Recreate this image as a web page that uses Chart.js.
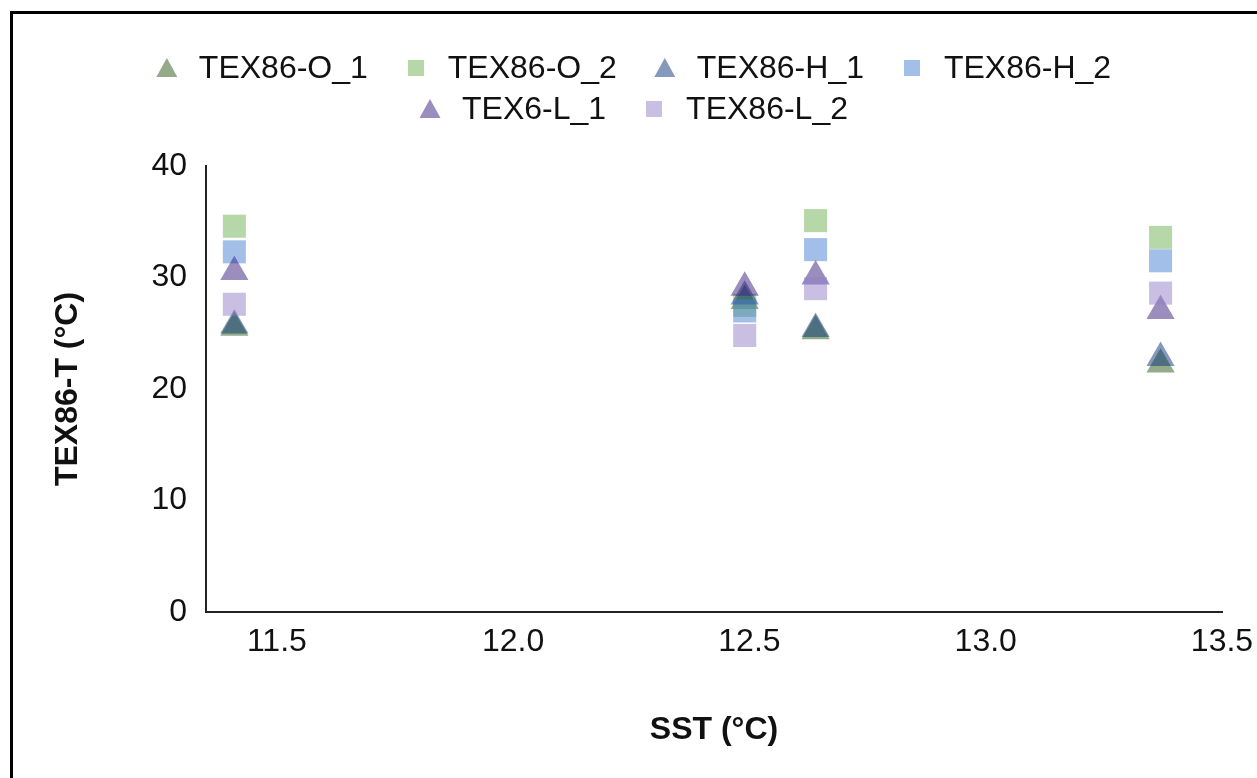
<!DOCTYPE html>
<html>
<head>
<meta charset="utf-8">
<script src="https://cdn.jsdelivr.net/npm/chart.js@4/dist/chart.umd.min.js"></script>
<style>
  html, body { margin: 0; padding: 0; background: #fff; }
  body { width: 1257px; height: 778px; position: relative; overflow: hidden;
         font-family: 'Liberation Sans', Arial, sans-serif; }
  #frame  { position: absolute; left: 10px; top: 11px; width: 1300px; height: 820px;
            border: 3px solid #000; box-sizing: border-box; }
  #wrap   { position: absolute; left: 0; top: 0; width: 1257px; height: 778px; }
  #legend { position: absolute; left: 0; top: 47px; width: 1262px; }
  .row  { display: flex; justify-content: center; align-items: center; height: 41px; }
  .item { display: flex; align-items: center; margin-right: 32px; font-size: 32px;
          color: #111; white-space: nowrap; }
  .item:last-child { margin-right: 0; }
  .mk  { width: 32px; height: 32px; display: flex; align-items: center; justify-content: center;
         margin-right: 16px; }
  .tri { width: 21px; height: 19px; clip-path: polygon(50% 0, 100% 100%, 0 100%); }
  .sq  { width: 16px; height: 16px; }
</style>
</head>
<body>
<div id="frame"></div>
<div id="wrap"><canvas id="chart" width="1257" height="778"></canvas></div>
<div id="legend"></div>
<script>
// ── data ──────────────────────────────────────────────────────────────────────
const sst      = [11.41, 12.49, 12.64, 13.37]
const names    = ['TEX86-O_1', 'TEX86-O_2', 'TEX86-H_1', 'TEX86-H_2', 'TEX6-L_1', 'TEX86-L_2']
const tex86O1  = [25.5, 27.9, 25.2, 22.2]
const tex86O2  = [34.6, 27.5, 35.1, 33.6]
const tex86H1  = [25.7, 28.3, 25.4, 22.8]
const tex86H2  = [32.3, 27.0, 32.5, 31.5]
const tex86L1  = [30.5, 29.1, 30.1, 27.0]
const tex86L2  = [27.6, 24.8, 29.0, 28.6]
const xTicks   = [11.5, 12.0, 12.5, 13.0, 13.5]
const yTicks   = [0, 10, 20, 30, 40]

const series   = [tex86O1, tex86O2, tex86H1, tex86H2, tex86L1, tex86L2]
const shapes   = ['triangle', 'rect', 'triangle', 'rect', 'triangle', 'rect']
const colors   = [
  'rgba(41,87,21,0.5)',   'rgba(109,175,81,0.5)',
  'rgba(9,51,119,0.5)',   'rgba(69,127,213,0.5)',
  'rgba(57,27,127,0.5)',  'rgba(145,127,197,0.5)',
]

const FONT = "'Liberation Sans', Arial, sans-serif"
const INK  = '#111'

// ── legend (html, two rows like the original) ─────────────────────────────────
const legendRows = [[0, 1, 2, 3], [4, 5]]
document.getElementById('legend').innerHTML = legendRows.map(r => `
  <div class="row">${r.map(i => `
    <div class="item"><span class="mk"><span class="${shapes[i] === 'rect' ? 'sq' : 'tri'}"
      style="background:${colors[i]}"></span></span>${names[i]}</div>`).join('')}
  </div>`).join('')

// ── chart ─────────────────────────────────────────────────────────────────────
new Chart(document.getElementById('chart'), {
  type: 'scatter',
  data: {
    datasets: series.map((vals, i) => ({
      label: names[i],
      data: sst.map((x, j) => ({ x, y: vals[j] })),
      pointStyle: shapes[i],
      pointRadius: 16.3,
      pointBorderWidth: 0,
      backgroundColor: colors[i],
      borderColor: colors[i],
      order: series.length - 1 - i,   // later series drawn on top, as in Excel
    })),
  },
  options: {
    responsive: false,
    animation: false,
    events: [],
    layout: { padding: { top: 166, right: 35, bottom: 0, left: 0 } },
    plugins: { legend: { display: false }, tooltip: { enabled: false } },
    scales: {
      x: {
        type: 'linear', min: 11.35, max: 13.5,
        afterBuildTicks: s => { s.ticks = xTicks.map(v => ({ value: v })) },
        afterFit: s => { s.height = 166; s.paddingLeft = 0; s.paddingRight = 0 },
        grid: { display: false, drawTicks: false },
        border: { color: '#222', width: 2 },
        ticks: { font: { family: FONT, size: 32 }, color: INK, padding: 11,
                 maxRotation: 0, autoSkip: false, callback: v => v.toFixed(1) },
        title: { display: true, text: 'SST (°C)', color: INK,
                 font: { family: FONT, size: 32, weight: 'bold' }, padding: { top: 0, bottom: 29 } },
      },
      y: {
        min: 0, max: 40,
        afterBuildTicks: s => { s.ticks = yTicks.map(v => ({ value: v })) },
        afterFit: s => { s.width = 206 },
        grid: { display: false, drawTicks: false },
        border: { color: '#222', width: 2 },
        ticks: { font: { family: FONT, size: 32 }, color: INK, padding: 19 },
        title: { display: true, text: 'TEX86-T (°C)', color: INK,
                 font: { family: FONT, size: 32, weight: 'bold' }, padding: { top: 49, bottom: 0 } },
      },
    },
  },
})
</script>
</body>
</html>
